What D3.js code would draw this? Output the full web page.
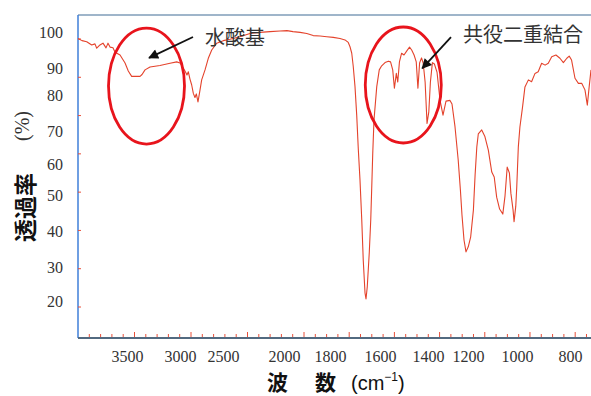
<!DOCTYPE html>
<html>
<head>
<meta charset="utf-8">
<script src="https://cdn.jsdelivr.net/npm/d3@7"></script>
<style>
	body { margin: 0; background: #fff; }
	svg { display: block; }
</style>
</head>
<body>
<svg id="chart" width="591" height="396"></svg>
<script>
// tick labels
const xTicks = [3500, 3000, 2500, 2000, 1800, 1600, 1400, 1200, 1000, 800];
const yTicks = [100, 90, 80, 70, 60, 50, 40, 30, 20];

// IR spectrum (cm-1, %T)
const wavenumber = [
	4000, 3959, 3911, 3860, 3827, 3809, 3776, 3745, 3714, 3694, 3673, 3643, 3622, 3571, 3520,
	3488, 3456, 3408, 3377, 3358, 3330, 3283, 3189, 3094, 3031, 3000, 2962, 2936, 2919, 2903,
	2884, 2864, 2845, 2826, 2810, 2791, 2767, 2748, 2709, 2671, 2631, 2573, 2498, 2443, 2361,
	2279, 2197, 2115, 2033, 1987, 1961, 1930, 1901, 1873, 1843, 1814, 1787, 1760, 1740, 1727,
	1720, 1713, 1707, 1700, 1693, 1687, 1680, 1673, 1667, 1660, 1656, 1651, 1643, 1637, 1633,
	1629, 1624, 1613, 1603, 1593, 1579, 1565, 1556, 1547, 1540, 1532, 1526, 1519, 1510, 1500,
	1489, 1477, 1468, 1458, 1449, 1442, 1435, 1427, 1420, 1412, 1404, 1396, 1388, 1378, 1368,
	1355, 1340, 1325, 1310, 1290, 1280, 1265, 1249, 1238, 1230, 1220, 1210, 1199, 1189, 1178,
	1171, 1164, 1158, 1144, 1131, 1117, 1103, 1093, 1083, 1071, 1058, 1049, 1040, 1031, 1025,
	1016, 1012, 1005, 1001, 995, 989, 979, 970, 957, 945, 932, 920, 907, 894, 882,
	869, 853, 838, 825, 812, 803, 794, 781, 768, 755, 743, 734, 727, 720
];
const transmittance = [
	98.2, 97.6, 97.3, 96.4, 96.7, 95.5, 96.4, 96.9, 95.6, 96.9, 95.8, 95.6, 94.4, 93.6, 91.4,
	88.9, 86.9, 86.9, 86.9, 87.6, 89.3, 90.3, 90.7, 91.3, 91.7, 91.4, 90.0, 88.5, 87.4, 88.6,
	85.9, 83.7, 80.6, 79.3, 80.4, 78.1, 81.9, 85.6, 89.3, 92.7, 95.0, 96.9, 97.6, 98.0, 98.7,
	99.6, 99.9, 100.1, 100.3, 100.4, 100.1, 99.9, 99.6, 99.0, 98.9, 98.7, 98.5, 98.2, 97.8, 97.1,
	95.9, 94.1, 90.4, 83.1, 74.2, 64.8, 54.8, 43.1, 31.9, 22.4, 20.6, 24.1, 33.9, 43.1, 52.6,
	63.3, 73.1, 83.1, 89.3, 90.6, 91.5, 91.9, 91.7, 89.3, 82.5, 88.0, 84.8, 91.7, 94.1, 93.6,
	94.7, 95.8, 95.0, 93.6, 91.7, 82.5, 91.4, 92.8, 91.4, 84.8, 72.1, 75.3, 84.8, 91.5, 91.1,
	88.5, 78.6, 74.4, 78.3, 78.5, 77.5, 71.2, 61.2, 51.6, 44.4, 37.5, 34.2, 35.6, 38.4, 45.8,
	56.5, 65.2, 69.1, 70.3, 68.3, 64.2, 57.4, 55.8, 49.4, 46.1, 44.7, 49.7, 59.0, 57.1, 50.6,
	45.8, 42.6, 46.9, 52.6, 65.2, 71.1, 76.7, 83.0, 85.6, 84.9, 88.0, 88.6, 91.3, 90.8, 91.3,
	93.1, 93.6, 92.7, 91.5, 92.7, 93.3, 92.2, 86.2, 84.3, 84.3, 81.9, 77.2, 83.0, 89.3
];

// annotations: circled bands with arrows and labels
const bandNames = ["水酸基", "共役二重結合"];
const bandCenterWn = [3316, 1503];
const bandCenterT = [83.3, 83.7];
const arrowFromWn = [2849, 1285];
const arrowFromT = [98.6, 98.6];
const arrowToWn = [3292, 1424];
const arrowToT = [92.8, 89.9];
const nameWn = [2709, 1225];
const nameT = [96.4, 97.2];

const svg = d3.select("#chart");
const plot = { left: 78, top: 15, right: 591, bottom: 338 };

// the printed labels sit unevenly, so both scales pass through each label
const x = d3.scaleLinear()
	.domain([4000, 3500, 3000, 2500, 2000, 1800, 1600, 1400, 1200, 1000, 800, 720])
	.range([78, 127, 180, 223, 284, 330, 380, 428, 468, 517, 570, 591]);
const y = d3.scaleLinear()
	.domain([105, 100, 90, 80, 70, 60, 50, 40, 30, 20, 10])
	.range([15, 32, 68, 95, 131, 164, 195, 231, 267, 301, 338]);

// the spectrometer's own tick marks (small red ticks)
const xInst = d3.scaleLinear().domain([4000, 2000, 730]).range([78, 304, 591]);
const yInst = d3.scaleLinear().domain([100, 30]).range([39, 307]);
const instTicksX = d3.range(3900, 2000, -100).concat(d3.range(2000, 730, -50));
const instTicksY = d3.range(100, 29, -10);

// frame
svg.append("line")
	.attr("x1", plot.left).attr("x2", plot.right)
	.attr("y1", plot.top).attr("y2", plot.top)
	.attr("stroke", "#7f9db8").attr("stroke-width", 1.5);
svg.append("line")
	.attr("x1", plot.left).attr("x2", plot.left)
	.attr("y1", plot.top).attr("y2", plot.bottom)
	.attr("stroke", "#3f7fd8").attr("stroke-width", 1.5);
svg.append("line")
	.attr("x1", plot.left).attr("x2", plot.right)
	.attr("y1", plot.bottom).attr("y2", plot.bottom)
	.attr("stroke", "#526a80").attr("stroke-width", 2);

// red instrument ticks
svg.append("g").selectAll("line")
	.data(instTicksX)
	.enter().append("line")
	.attr("x1", d => xInst(d)).attr("x2", d => xInst(d))
	.attr("y1", plot.bottom - 1)
	.attr("y2", d => plot.bottom - 1 - ((d > 2000 ? d % 500 : d % 200) === 0 ? 5 : 3))
	.attr("stroke", "#e8503a").attr("stroke-width", 1);
svg.append("g").selectAll("line")
	.data(instTicksY)
	.enter().append("line")
	.attr("x1", plot.left).attr("x2", plot.left + 3)
	.attr("y1", d => yInst(d)).attr("y2", d => yInst(d))
	.attr("stroke", "#e8503a").attr("stroke-width", 1);

// spectrum
const points = wavenumber.map((w, i) => [w, transmittance[i]]);
svg.append("path")
	.datum(points)
	.attr("fill", "none")
	.attr("stroke", "#e4432c")
	.attr("stroke-width", 1.1)
	.attr("stroke-linejoin", "round")
	.attr("d", d3.line().x(d => x(d[0])).y(d => y(d[1])));

// axes (labels only)
const xAxis = d3.axisBottom(x).tickValues(xTicks).tickSize(0).tickPadding(0).tickFormat(d3.format("d"));
svg.append("g")
	.attr("transform", "translate(0,351)")
	.call(xAxis)
	.call(g => g.select(".domain").remove())
	.attr("font-family", "'Liberation Serif', 'DejaVu Serif', serif")
	.attr("font-size", 16)
	.selectAll("text").attr("fill", "#333");

const yAxis = d3.axisLeft(y).tickValues(yTicks).tickSize(0).tickPadding(15).tickFormat(d3.format("d"));
svg.append("g")
	.attr("transform", `translate(${plot.left},0)`)
	.call(yAxis)
	.call(g => g.select(".domain").remove())
	.attr("font-family", "'Liberation Serif', 'DejaVu Serif', serif")
	.attr("font-size", 16)
	.selectAll("text").attr("fill", "#333");

// axis titles
const xTitle = svg.append("text")
	.attr("x", 267).attr("y", 390)
	.attr("font-family", "'Noto Sans CJK JP', sans-serif")
	.attr("font-size", 21)
	.attr("fill", "#111");
xTitle.append("tspan").attr("font-weight", "bold").text("波");
xTitle.append("tspan").attr("font-weight", "bold").attr("dx", 27).text("数");
xTitle.append("tspan").attr("dx", 15)
	.attr("font-family", "'Liberation Sans', Arial, sans-serif")
	.attr("font-size", 20).text("(cm");
xTitle.append("tspan").attr("dy", -9)
	.attr("font-family", "'Liberation Sans', Arial, sans-serif")
	.attr("font-size", 12).text("−1");
xTitle.append("tspan").attr("dy", 9)
	.attr("font-family", "'Liberation Sans', Arial, sans-serif")
	.attr("font-size", 20).text(")");

const yTitle = svg.append("text")
	.attr("transform", "translate(34,242) rotate(-90)")
	.attr("font-family", "'Noto Sans CJK JP', sans-serif")
	.attr("fill", "#111");
yTitle.append("tspan").attr("font-size", 23).attr("font-weight", "bold").text("透過率");
yTitle.append("tspan").attr("dx", 32).attr("dy", -5)
	.attr("font-family", "'Liberation Serif', serif")
	.attr("font-size", 20).attr("fill", "#333").text("(%)");

// annotations
svg.append("defs").append("marker")
	.attr("id", "arrowhead")
	.attr("viewBox", "0 0 10 10")
	.attr("refX", 9).attr("refY", 5)
	.attr("markerUnits", "userSpaceOnUse")
	.attr("markerWidth", 14).attr("markerHeight", 10)
	.attr("orient", "auto")
	.append("path")
	.attr("d", "M0,0 L10,5 L0,10 z")
	.attr("fill", "#111");

const notes = bandNames.map((name, i) => ({
	name,
	cx: bandCenterWn[i], cy: bandCenterT[i],
	fx: arrowFromWn[i], fy: arrowFromT[i],
	tx: arrowToWn[i], ty: arrowToT[i],
	lx: nameWn[i], ly: nameT[i]
}));

const note = svg.append("g").selectAll("g")
	.data(notes)
	.enter().append("g");

note.append("ellipse")
	.attr("cx", d => x(d.cx)).attr("cy", d => y(d.cy))
	.attr("rx", 38).attr("ry", 58)
	.attr("fill", "none")
	.attr("stroke", "#e8141c")
	.attr("stroke-width", 2.8);

note.append("line")
	.attr("x1", d => x(d.fx)).attr("y1", d => y(d.fy))
	.attr("x2", d => x(d.tx)).attr("y2", d => y(d.ty))
	.attr("stroke", "#111").attr("stroke-width", 1.8)
	.attr("marker-end", "url(#arrowhead)");

note.append("text")
	.attr("x", d => x(d.lx)).attr("y", d => y(d.ly))
	.attr("font-family", "'Noto Sans CJK JP', sans-serif")
	.attr("font-size", 20)
	.attr("fill", "#333")
	.text(d => d.name);
</script>
</body>
</html>
